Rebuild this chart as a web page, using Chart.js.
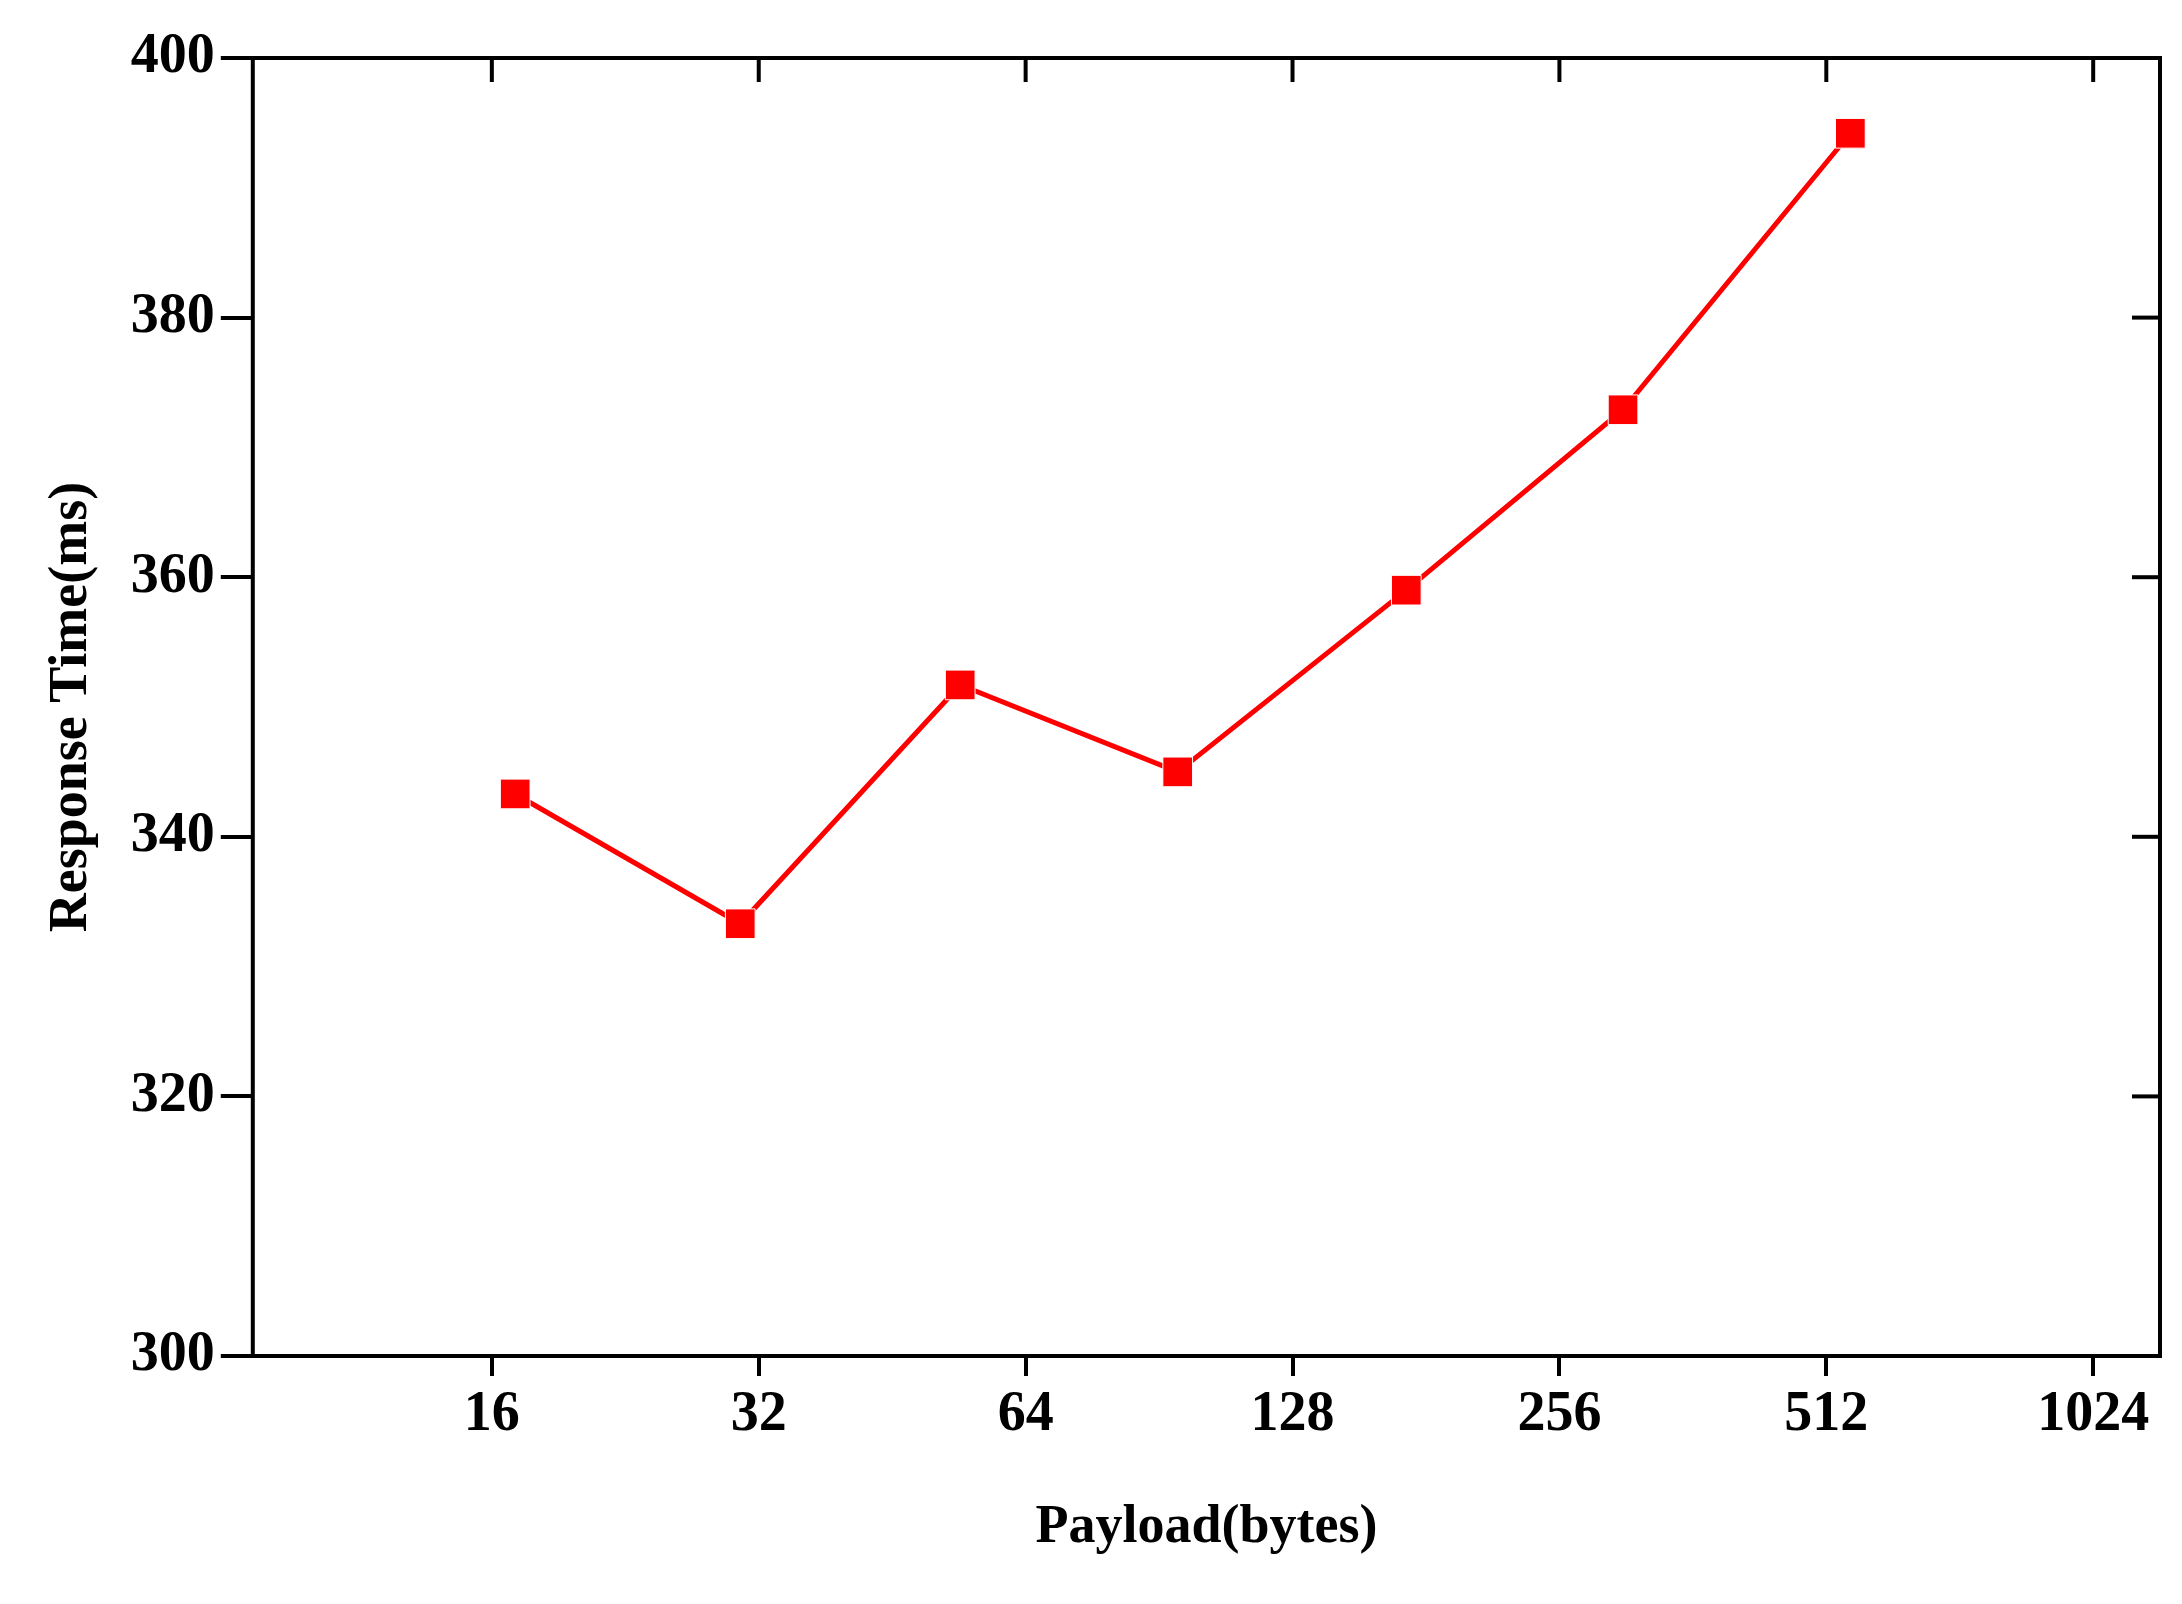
<!DOCTYPE html>
<html>
<head>
<meta charset="utf-8">
<script src="https://cdn.jsdelivr.net/npm/chart.js@4"></script>
<style>
  html, body { margin: 0; padding: 0; background: #fff; }
  #wrap { width: 2182px; height: 1604px; }
</style>
</head>
<body>
<div id="wrap"><canvas id="chart"></canvas></div>
<script>
const payloads = [17, 30.5, 54, 95, 172, 302, 545];
const responseTimes = [343.3, 333.3, 351.7, 345.0, 359.0, 372.9, 394.2];
const xTickValues = [16, 32, 64, 128, 256, 512, 1024];
const yTickValues = [300, 320, 340, 360, 380, 400];

const FONT = 'Liberation Serif';

// draws the frame plus inward ticks on the top and right edges
const framePlugin = {
  id: 'frame',
  afterDraw(chart) {
    const { ctx, chartArea: a, scales } = chart;
    ctx.save();
    ctx.strokeStyle = '#000';
    ctx.lineWidth = 4;
    ctx.strokeRect(a.left, a.top, a.right - a.left, a.bottom - a.top);
    xTickValues.forEach(v => {
      const x = scales.x.getPixelForValue(v);
      ctx.beginPath(); ctx.moveTo(x, a.top); ctx.lineTo(x, a.top + 24); ctx.stroke();
    });
    yTickValues.forEach(v => {
      const y = scales.y.getPixelForValue(v);
      ctx.beginPath(); ctx.moveTo(a.right, y); ctx.lineTo(a.right - 28, y); ctx.stroke();
    });
    ctx.restore();
  }
};

new Chart(document.getElementById('chart'), {
  type: 'line',
  data: {
    datasets: [{
      data: payloads.map((p, i) => ({ x: p, y: responseTimes[i] })),
      borderColor: '#ff0000',
      backgroundColor: '#ff0000',
      borderWidth: 5,
      pointStyle: 'rect',
      pointRadius: 21,
      pointBorderColor: '#ffffff',
      pointBorderWidth: 1,
      tension: 0
    }]
  },
  options: {
    responsive: true,
    maintainAspectRatio: false,
    animation: false,
    layout: { padding: { top: 58, right: 14, bottom: 40, left: 36 } },
    plugins: { legend: { display: false }, tooltip: { enabled: false } },
    scales: {
      x: {
        type: 'logarithmic',
        min: 8.6,
        max: 1218,
        afterBuildTicks: axis => { axis.ticks = xTickValues.map(v => ({ value: v })); },
        grid: { drawOnChartArea: false, color: '#000', lineWidth: 4, tickLength: 20 },
        border: { display: false },
        ticks: { color: '#000', font: { family: FONT, size: 56, weight: 'bold' }, padding: 6, maxRotation: 0,
                 callback: v => String(v) },
        title: { display: true, text: 'Payload(bytes)', color: '#000',
                 font: { family: FONT, size: 54, weight: 'bold' }, padding: { top: 40 } }
      },
      y: {
        min: 300,
        max: 400,
        afterBuildTicks: axis => { axis.ticks = yTickValues.map(v => ({ value: v })); },
        grid: { drawOnChartArea: false, color: '#000', lineWidth: 4, tickLength: 32 },
        border: { display: false },
        ticks: { color: '#000', font: { family: FONT, size: 56, weight: 'bold' }, padding: 6 },
        title: { display: true, text: 'Response Time(ms)', color: '#000',
                 font: { family: FONT, size: 54, weight: 'bold' }, padding: { bottom: 20 } }
      }
    }
  },
  plugins: [framePlugin]
});
</script>
</body>
</html>
